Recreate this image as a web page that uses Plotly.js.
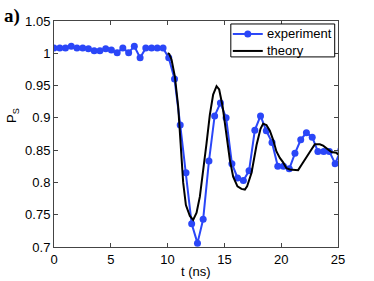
<!DOCTYPE html>
<html>
<head>
<meta charset="utf-8">
<script src="https://cdn.plot.ly/plotly-3.0.1.min.js"></script>
<style>html,body{margin:0;padding:0;background:#fff;}#chart{width:374px;height:281px;}</style>
</head>
<body>
<div id="chart"></div>
<script>
// Experiment (blue markers + line)
const expT = [0, 0.51, 1.01, 1.52, 2.02, 2.53, 3.03, 3.54, 4.04, 4.55,
  5.05, 5.56, 6.06, 6.57, 7.07, 7.58, 8.08, 8.59, 9.09, 9.60,
  10.10, 10.61, 11.11, 11.62, 12.12, 12.63, 13.13, 13.64, 14.14, 14.65,
  15.15, 15.66, 16.16, 16.67, 17.17, 17.68, 18.18, 18.69, 19.19, 19.70,
  20.20, 20.71, 21.21, 21.72, 22.22, 22.73, 23.23, 23.74, 24.24, 24.75, 25.25];
const expP = [1.008, 1.008, 1.008, 1.011, 1.008, 1.008, 1.007, 1.004, 1.004, 1.007,
  1.005, 1.001, 1.008, 1.001, 1.011, 0.993, 1.008, 1.008, 1.008, 1.008,
  0.993, 0.960, 0.889, 0.815, 0.736, 0.706, 0.743, 0.833, 0.903, 0.923,
  0.900, 0.829, 0.807, 0.803, 0.818, 0.881, 0.903, 0.880, 0.862, 0.825,
  0.825, 0.821, 0.845, 0.866, 0.877, 0.870, 0.848, 0.848, 0.848, 0.829, 0.850];
// Theory (black line)
const thT = [10.0, 10.14, 10.35, 10.64, 10.93, 11.14, 11.37, 11.61, 11.96, 12.25,
  12.55, 12.84, 13.13, 13.43, 13.72, 14.01, 14.31, 14.54, 14.84, 15.13,
  15.48, 15.77, 16.15, 16.5, 16.8, 17.0, 17.39, 17.83, 18.18, 18.41,
  18.7, 19.0, 19.29, 19.58, 19.88, 20.17, 20.46, 20.76, 21.2, 21.49,
  21.78, 22.22, 22.66, 22.96, 23.4, 23.69, 24.04, 24.42, 24.86, 25.0];
const thP = [1.0, 0.999, 0.990, 0.964, 0.918, 0.866, 0.800, 0.765, 0.748, 0.742,
  0.753, 0.778, 0.815, 0.861, 0.905, 0.936, 0.949, 0.944, 0.918, 0.876,
  0.835, 0.809, 0.794, 0.790, 0.789, 0.794, 0.815, 0.858, 0.883, 0.891,
  0.889, 0.880, 0.866, 0.848, 0.838, 0.831, 0.822, 0.820, 0.819, 0.819,
  0.827, 0.838, 0.851, 0.859, 0.859, 0.857, 0.852, 0.847, 0.846, 0.843];

const seriesNames = ['experiment', 'theory'];
const xTicks = [0, 5, 10, 15, 20, 25];
const xTickText = ['0', '5', '10', '15', '20', '25'];
const yTicks = [0.7, 0.75, 0.8, 0.85, 0.9, 0.95, 1.0, 1.05];
const yTickText = ['0.7', '0.75', '0.8', '0.85', '0.9', '0.95', '1', '1.05'];

const blue = '#2a46f8';
const axisCol = '#444';
const fontFam = 'Liberation Sans, Arial, sans-serif';

const traces = [
  {x: expT, y: expP, mode: 'lines+markers', name: seriesNames[0],
   line: {color: blue, width: 2}, marker: {color: blue, size: 7}},
  {x: thT, y: thP, mode: 'lines', name: seriesNames[1],
   line: {color: '#000', width: 2}}
];

const axisCommon = {
  showline: true, mirror: 'ticks', linecolor: axisCol, linewidth: 1,
  ticks: 'inside', ticklen: 4, tickcolor: axisCol, tickwidth: 1,
  showgrid: false, zeroline: false,
  tickfont: {family: fontFam, size: 13, color: '#000'}
};

// MATLAB-style legend box (paper coordinates)
const lg = {x0: 0.6226, x1: 0.9884, y0: 0.8411, y1: 0.9868,
  lx0: 0.6296, lx1: 0.7351, tx: 0.7457, row: [0.9426, 0.8675]};

const layout = {
  width: 374, height: 281,
  margin: {l: 54, r: 36, t: 21, b: 34, pad: 0},
  paper_bgcolor: '#fff', plot_bgcolor: '#fff',
  showlegend: false,
  xaxis: Object.assign({}, axisCommon, {range: [0, 25], tickvals: xTicks, ticktext: xTickText}),
  yaxis: Object.assign({}, axisCommon, {range: [0.7, 1.05], tickvals: yTicks, ticktext: yTickText}),
  shapes: [
    {type: 'rect', xref: 'paper', yref: 'paper', x0: lg.x0, x1: lg.x1, y0: lg.y0, y1: lg.y1,
     fillcolor: '#fff', line: {color: '#000', width: 1}},
    {type: 'line', xref: 'paper', yref: 'paper', x0: lg.lx0, x1: lg.lx1, y0: lg.row[0], y1: lg.row[0],
     line: {color: blue, width: 2}},
    {type: 'circle', xref: 'paper', yref: 'paper', xsizemode: 'pixel', ysizemode: 'pixel',
     xanchor: (lg.lx0 + lg.lx1) / 2, yanchor: lg.row[0], x0: -3.5, x1: 3.5, y0: -3.5, y1: 3.5,
     fillcolor: blue, line: {color: blue, width: 0}},
    {type: 'line', xref: 'paper', yref: 'paper', x0: lg.lx0, x1: lg.lx1, y0: lg.row[1], y1: lg.row[1],
     line: {color: '#000', width: 2}}
  ],
  annotations: [
    {xref: 'paper', yref: 'paper', x: lg.tx, y: lg.row[0], xanchor: 'left', yanchor: 'middle',
     text: seriesNames[0], showarrow: false, borderpad: 0, font: {family: fontFam, size: 13, color: '#000'}},
    {xref: 'paper', yref: 'paper', x: lg.tx, y: lg.row[1], xanchor: 'left', yanchor: 'middle',
     text: seriesNames[1], showarrow: false, borderpad: 0, font: {family: fontFam, size: 13, color: '#000'}},
    {xref: 'paper', yref: 'paper', x: 0.5, y: -0.108, xanchor: 'center', yanchor: 'middle',
     text: 't (ns)', showarrow: false, font: {family: fontFam, size: 13, color: '#000'}},
    {xref: 'paper', yref: 'paper', x: -0.144, y: 0.58, xanchor: 'center', yanchor: 'middle',
     text: 'P<sub>S</sub>', textangle: -90, showarrow: false, font: {family: fontFam, size: 13, color: '#000'}},
    {xref: 'paper', yref: 'paper', x: -0.183, y: 1.02, xanchor: 'left', yanchor: 'middle',
     text: '<b>a)</b>', showarrow: false, font: {family: 'Liberation Serif, Times New Roman, serif', size: 19, color: '#000'}}
  ]
};

Plotly.newPlot('chart', traces, layout, {displayModeBar: false, staticPlot: true});
</script>
</body>
</html>
